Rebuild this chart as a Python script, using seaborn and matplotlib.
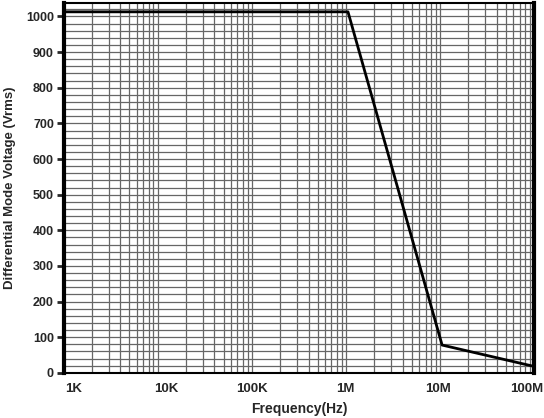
import numpy as np
import pandas as pd
import seaborn as sns
import matplotlib.pyplot as plt
import matplotlib.transforms as mtransforms
from matplotlib.ticker import FixedLocator, LogLocator, MultipleLocator

# 数据
freq_hz = [1e3, 1.05e6, 1.05e7, 1e8]
voltage_vrms = [1013, 1013, 78, 18]
xtick_vals = [1e3, 1e4, 1e5, 1e6, 1e7, 1e8]
xtick_labels = ['1K', '10K', '100K', '1M', '10M', '100M']

df = pd.DataFrame({'freq': freq_hz, 'volt': voltage_vrms})

sns.set_style('white')
plt.rcParams['font.family'] = ['Liberation Sans', 'DejaVu Sans']
plt.rcParams['font.weight'] = 'bold'

fig = plt.figure(figsize=(5.44, 4.18), dpi=100)
ax = fig.add_axes([0.117, 0.108, 0.865, 0.885])

sns.lineplot(data=df, x='freq', y='volt', color='black', linewidth=2, ax=ax)

ax.set_xscale('log')
ax.set_xlim(1e3, 1e8)
ax.set_ylim(0, 1038)

ax.xaxis.set_major_locator(FixedLocator(xtick_vals))
ax.set_xticklabels(xtick_labels)
ax.xaxis.set_minor_locator(LogLocator(base=10, subs=np.arange(2, 10)))
ax.yaxis.set_major_locator(MultipleLocator(100))
ax.yaxis.set_minor_locator(MultipleLocator(20))

# 网格
ax.grid(True, which='both', axis='both', color='#666666', linewidth=0.9)
ax.set_axisbelow(True)

ax.tick_params(axis='y', which='major', direction='out', length=5, width=2,
               left=True, labelsize=9, pad=2)
ax.tick_params(axis='x', which='major', length=0, labelsize=9.5, pad=7)
ax.tick_params(which='minor', length=0)
for lab in ax.get_xticklabels() + ax.get_yticklabels():
    lab.set_fontweight('bold')

# x 标签稍微偏移（原图标签不完全居中）
shifts_px = [10, 8, 0, -1, -2, -8]
for lab, dx in zip(ax.get_xticklabels(), shifts_px):
    lab.set_transform(lab.get_transform() +
                      mtransforms.ScaledTranslation(dx / 100, 0, fig.dpi_scale_trans))

for side in ['left', 'bottom', 'top', 'right']:
    ax.spines[side].set_color('black')
ax.spines['left'].set_linewidth(3)
ax.spines['right'].set_linewidth(3)
ax.spines['bottom'].set_linewidth(1.5)
ax.spines['top'].set_linewidth(1.5)

ax.set_xlabel('Frequency(Hz)', fontsize=10, fontweight='bold', labelpad=5)
ax.set_ylabel('Differential Mode Voltage (Vrms)', fontsize=9.5, fontweight='bold', labelpad=7)

plt.savefig('out.png', dpi=100)
